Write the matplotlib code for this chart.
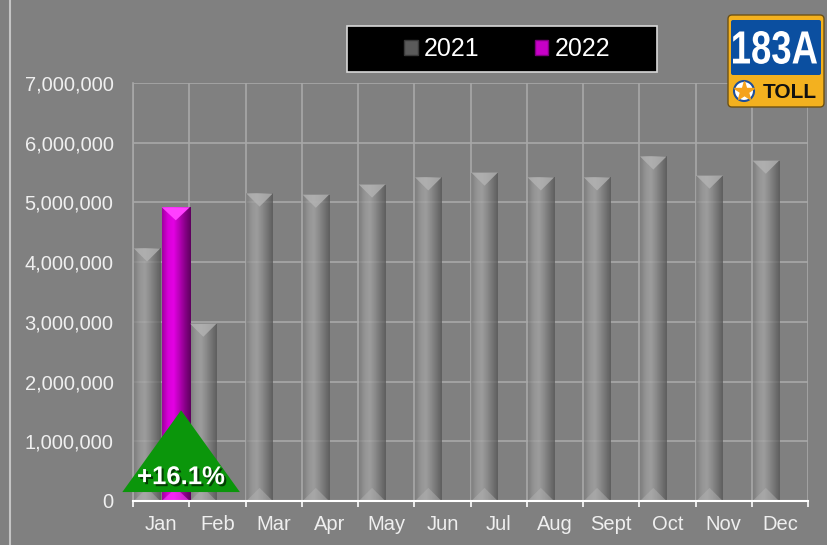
import matplotlib.pyplot as plt
import numpy as np
import matplotlib.patheffects as pe
from matplotlib.patches import Polygon, Rectangle, FancyBboxPatch, Circle, PathPatch, Patch
from matplotlib.colors import LinearSegmentedColormap
from matplotlib.textpath import TextPath
from matplotlib.font_manager import FontProperties
from matplotlib.transforms import Affine2D

# monthly transactions
months = ['Jan', 'Feb', 'Mar', 'Apr', 'May', 'Jun', 'Jul', 'Aug', 'Sept', 'Oct', 'Nov', 'Dec']
traffic_2021 = [4230000, 2970000, 5150000, 5130000, 5300000, 5420000,
                5500000, 5420000, 5420000, 5770000, 5450000, 5700000]
traffic_2022 = [4920000]
series_names = ['2021', '2022']
change_label = '+16.1%'
y_ticks = np.arange(0, 7000001, 1000000)

plt.rcParams['font.family'] = ['Liberation Sans', 'DejaVu Sans']

BG = '#808080'
GRID = '#a8a8a8'
TXT = '#efefef'

fig = plt.figure(figsize=(8.27, 5.45), dpi=100, facecolor=BG)
ax = fig.add_axes([133 / 827, 1 - 501 / 545, (808 - 133) / 827, (501 - 83) / 545])
ax.set_facecolor(BG)

x = np.arange(len(months))
ax.set_xlim(-0.5, len(months) - 0.5)
ax.set_ylim(0, y_ticks[-1])

# grid
ax.set_yticks(y_ticks)
ax.set_yticklabels([f'{v:,.0f}' for v in y_ticks])
ax.set_xticks(x)
ax.set_xticklabels(months)
ax.set_xticks(np.arange(-0.5, len(months), 1), minor=True)
ax.yaxis.grid(True, color=GRID, lw=1.2)
ax.xaxis.grid(True, which='minor', color=GRID, lw=1.2)
ax.set_axisbelow(True)
ax.tick_params(axis='y', length=0, pad=14, labelsize=14.5, labelcolor=TXT)
ax.tick_params(axis='x', which='major', length=0, pad=10, labelsize=14.5, labelcolor=TXT)
ax.tick_params(axis='x', which='minor', length=4, color='white', width=1.2)
for s in ['top', 'right']:
    ax.spines[s].set_visible(False)
ax.spines['left'].set_color(GRID)
ax.spines['left'].set_linewidth(1.2)
ax.spines['bottom'].set_color('white')
ax.spines['bottom'].set_linewidth(1.5)

gray_cmap = LinearSegmentedColormap.from_list(
    'g', ['#7e7e7e', '#9a9a9a', '#a6a6a6', '#8e8e8e', '#727272', '#555555'])
mag_cmap = LinearSegmentedColormap.from_list(
    'm', ['#a000a0', '#d800d8', '#e400e4', '#b800b8', '#880088', '#5e005e'])

w = 0.47
b21 = ax.bar(x - 0.25, traffic_2021, width=w, color='none', edgecolor='none', zorder=2)
b22 = ax.bar(x[:len(traffic_2022)] + 0.26, traffic_2022, width=0.5, color='none',
             edgecolor='none', zorder=2)

cap_depth = 220000


def shade_bars(bars, cmap, cap_color, alpha):
    grad = np.linspace(0, 1, 64).reshape(1, -1)
    for b in bars:
        x0, y0 = b.get_x(), b.get_y()
        bw, bh = b.get_width(), b.get_height()
        im = ax.imshow(grad, cmap=cmap, extent=(x0, x0 + bw, y0, y0 + bh),
                       aspect='auto', alpha=alpha, zorder=2, interpolation='bicubic')
        im.set_clip_path(b)
        top = y0 + bh
        ax.add_patch(Polygon([(x0, top), (x0 + bw, top), (x0 + bw / 2, top - cap_depth)],
                             closed=True, fc=cap_color, ec='none', alpha=alpha, zorder=2.1))
        ax.add_patch(Polygon([(x0, y0), (x0 + bw, y0), (x0 + bw / 2, y0 + cap_depth)],
                             closed=True, fc=cap_color, ec='none', alpha=alpha * 0.6, zorder=2.1))


shade_bars(b21, gray_cmap, '#b4b4b4', 0.78)
shade_bars(b22, mag_cmap, '#ff40ff', 1.0)
ax.set_xlim(-0.5, len(months) - 0.5)
ax.set_ylim(0, y_ticks[-1])

# growth marker over January
cx = x[0] + 0.355
ax.add_patch(Polygon([(cx - 1.045, 150000), (cx + 1.045, 150000), (cx, 1520000)],
                     closed=True, fc='#0b960b', ec='none', zorder=4, clip_on=False))
ax.text(cx, 400000, change_label, ha='center', va='center', color='white',
        fontsize=18.5, fontweight='bold', zorder=5,
        path_effects=[pe.withSimplePatchShadow(offset=(1.5, -1.5), shadow_rgbFace='black', alpha=0.6)])

# overlay in pixel coordinates for the frame line, legend box and logo
lax = fig.add_axes([0, 0, 1, 1], zorder=3)
lax.set_xlim(0, 827)
lax.set_ylim(545, 0)
lax.axis('off')
lax.patch.set_visible(False)
lax.plot([10, 10], [0, 545], color='#c4c4c4', lw=1.5)

lax.add_patch(Rectangle((347, 26), 310, 46, fc='black', ec='#d8d8d8', lw=1.2))
handles = [Patch(fc='#5a5a5a', ec='#3a3a3a'), Patch(fc='#c800c8', ec='#800080')]
fig.legend(handles, series_names, loc='center', bbox_to_anchor=(507 / 827, 1 - 49 / 545),
           ncol=2, frameon=False, fontsize=18, labelcolor='white',
           handlelength=0.55, handleheight=0.55, handletextpad=0.25, columnspacing=2.2)

# 183A toll logo
lax.add_patch(FancyBboxPatch((728, 15), 96, 92, boxstyle='round,pad=0,rounding_size=4',
                             fc='#f3b11f', ec='#6e5214', lw=1))
lax.add_patch(FancyBboxPatch((731, 20), 90, 55, boxstyle='round,pad=0,rounding_size=2',
                             fc='#0b4fa0', ec='none'))
fp = FontProperties(family='Liberation Sans', weight='bold')
tp = TextPath((0, 0), '183A', size=100, prop=fp)
bb = tp.get_extents()
tr = Affine2D().translate(-bb.x0, -bb.y0).scale(84 / bb.width, -33 / bb.height).translate(733, 64)
lax.add_patch(PathPatch(tr.transform_path(tp), fc='white', ec='none'))
lax.add_patch(Circle((744, 91), 10, fc='white', ec='#1d4f9c', lw=1.5))
lax.plot(744, 91, marker='*', ms=15, color='#f5a21c', mec='#f5a21c')
lax.text(790, 92, 'TOLL', ha='center', va='center', fontsize=15, fontweight='bold', color='#111111')

fig.savefig('out.png', dpi=100, facecolor=BG)
